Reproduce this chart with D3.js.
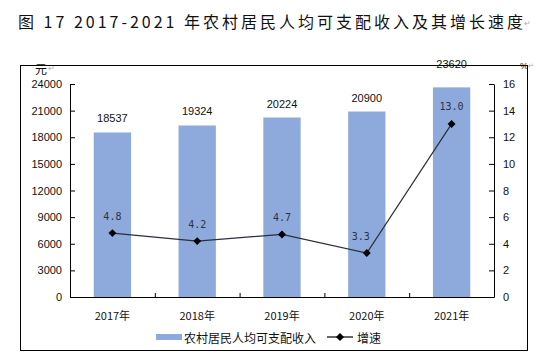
<!DOCTYPE html>
<html><head><meta charset="utf-8">
<script src="https://cdn.jsdelivr.net/npm/d3@7"></script>
<style>body{margin:0;background:#fff}svg{display:block}</style>
</head><body>
<svg id="c" width="547" height="360"></svg>
<script>
const years = ["2017年","2018年","2019年","2020年","2021年"];
const income = [18537,19324,20224,20900,23620];
const growth = [4.8,4.2,4.7,3.3,13.0];
const leftTicks = [0,3000,6000,9000,12000,15000,18000,21000,24000];
const rightTicks = [0,2,4,6,8,10,12,14,16];
const titleText = "图 17  2017-2021 年农村居民人均可支配收入及其增长速度";
const seriesNames = ["农村居民人均可支配收入","增速"];

const svg = d3.select("#c");
const cjk = "'Noto Sans CJK SC','Noto Sans',sans-serif";
const lat = "'Liberation Sans',Arial,sans-serif";
const barColor = "#8eaadc";
const L=70,R=494,T=84,B=297;

// title
svg.append("text").attr("x",18).attr("y",21).attr("dominant-baseline","central")
  .attr("font-family",cjk).attr("font-size",16).attr("fill","#111")
  .attr("textLength",505).attr("lengthAdjust","spacing").text(titleText);
svg.append("text").attr("x",524).attr("y",23).attr("dominant-baseline","central")
  .attr("font-family",lat).attr("font-size",8).attr("fill","#aaa").text("↵");

// frame
svg.append("rect").attr("x",20.5).attr("y",65.5).attr("width",507).attr("height",285)
  .attr("fill","none").attr("stroke","#000").attr("stroke-width",1);

const x = d3.scaleBand().domain(years).range([L,R]).paddingInner(0.56).paddingOuter(0.28);
const xb = d3.scaleBand().domain(years).range([L,R]);
const yL = d3.scaleLinear().domain([0,24000]).range([B,T]);
const yR = d3.scaleLinear().domain([0,16]).range([B,T]);

// bars
svg.append("g").selectAll("rect").data(income).join("rect")
  .attr("x",(d,i)=>x(years[i])).attr("width",x.bandwidth())
  .attr("y",d=>yL(d)).attr("height",d=>B-yL(d)).attr("fill",barColor);

// axes
const axL = svg.append("g").attr("transform",`translate(${L},0)`)
  .call(d3.axisLeft(yL).tickValues(leftTicks).tickSizeInner(-5).tickSizeOuter(0).tickPadding(8).tickFormat(d3.format("d")));
const axR = svg.append("g").attr("transform",`translate(${R},0)`)
  .call(d3.axisRight(yR).tickValues(rightTicks).tickSizeInner(-5).tickSizeOuter(0).tickPadding(9).tickFormat(d3.format("d")));
const axB = svg.append("g").attr("transform",`translate(0,${B})`)
  .call(d3.axisBottom(xb).tickSize(0).tickPadding(15));
svg.append("g").selectAll("line").data(years.slice(1)).join("line")
  .attr("x1",d=>xb(d)+0.5).attr("x2",d=>xb(d)+0.5).attr("y1",B).attr("y2",B-4)
  .attr("stroke","#000");
[axL,axR,axB].forEach(a=>{
  a.selectAll("path,line").attr("stroke","#000");
  a.selectAll("text").attr("font-family",lat).attr("font-size",11).attr("fill","#111");
});
axB.selectAll("text").attr("font-family",cjk).attr("font-size",11);

// units
svg.append("text").attr("x",35).attr("y",68).attr("dominant-baseline","central")
  .attr("font-family",cjk).attr("font-size",12).attr("fill","#111").text("元");
svg.append("text").attr("x",48).attr("y",68).attr("dominant-baseline","central")
  .attr("font-family",lat).attr("font-size",8).attr("fill","#aaa").text("↵");
svg.append("text").attr("x",520).attr("y",66).attr("dominant-baseline","central")
  .attr("font-family",lat).attr("font-size",9).attr("fill","#111").text("%");
svg.append("text").attr("x",528).attr("y",65).attr("dominant-baseline","central")
  .attr("font-family",lat).attr("font-size",7).attr("fill","#aaa").text("↵");

// bar labels
svg.append("g").selectAll("text").data(income).join("text")
  .attr("x",(d,i)=>xb(years[i])+xb.bandwidth()/2)
  .attr("y",d=>{const yy=yL(d)-14; return yy< T ? T-20 : yy;})
  .attr("dominant-baseline","central").attr("text-anchor","middle")
  .attr("font-family",lat).attr("font-size",11).attr("fill","#111").text(d=>d);

// line
const cx = i=>xb(years[i])+xb.bandwidth()/2;
const line = d3.line().x((d,i)=>cx(i)).y(d=>yR(d));
svg.append("path").datum(growth).attr("d",line).attr("fill","none")
  .attr("stroke","#2a2f3a").attr("stroke-width",1.2);
svg.append("g").selectAll("path").data(growth).join("path")
  .attr("d",d3.symbol(d3.symbolDiamond2,40))
  .attr("transform",(d,i)=>`translate(${cx(i)},${yR(d)})`).attr("fill","#000");
svg.append("g").selectAll("text").data(growth).join("text")
  .attr("x",(d,i)=>cx(i) - (i<growth.length-1 && growth[i+1]-d>5 ? 6 : 0)).attr("y",d=>yR(d)-17)
  .attr("dominant-baseline","central").attr("text-anchor","middle")
  .attr("font-family","'DejaVu Sans Mono',monospace").attr("font-size",10).attr("fill","#2b3345")
  .text(d=>d3.format(".1f")(d));

// legend
const lg = svg.append("g");
lg.append("rect").attr("x",156).attr("y",334).attr("width",26).attr("height",6).attr("fill",barColor);
lg.append("text").attr("x",184).attr("y",337).attr("dominant-baseline","central")
  .attr("font-family",cjk).attr("font-size",12).attr("fill","#111").text(seriesNames[0]);
lg.append("line").attr("x1",327).attr("x2",353).attr("y1",337).attr("y2",337).attr("stroke","#000").attr("stroke-width",1.2);
lg.append("path").attr("d",d3.symbol(d3.symbolDiamond2,40)).attr("transform","translate(340,337)").attr("fill","#000");
lg.append("text").attr("x",357).attr("y",337).attr("dominant-baseline","central")
  .attr("font-family",cjk).attr("font-size",12).attr("fill","#111").text(seriesNames[1]);
</script>
</body></html>
